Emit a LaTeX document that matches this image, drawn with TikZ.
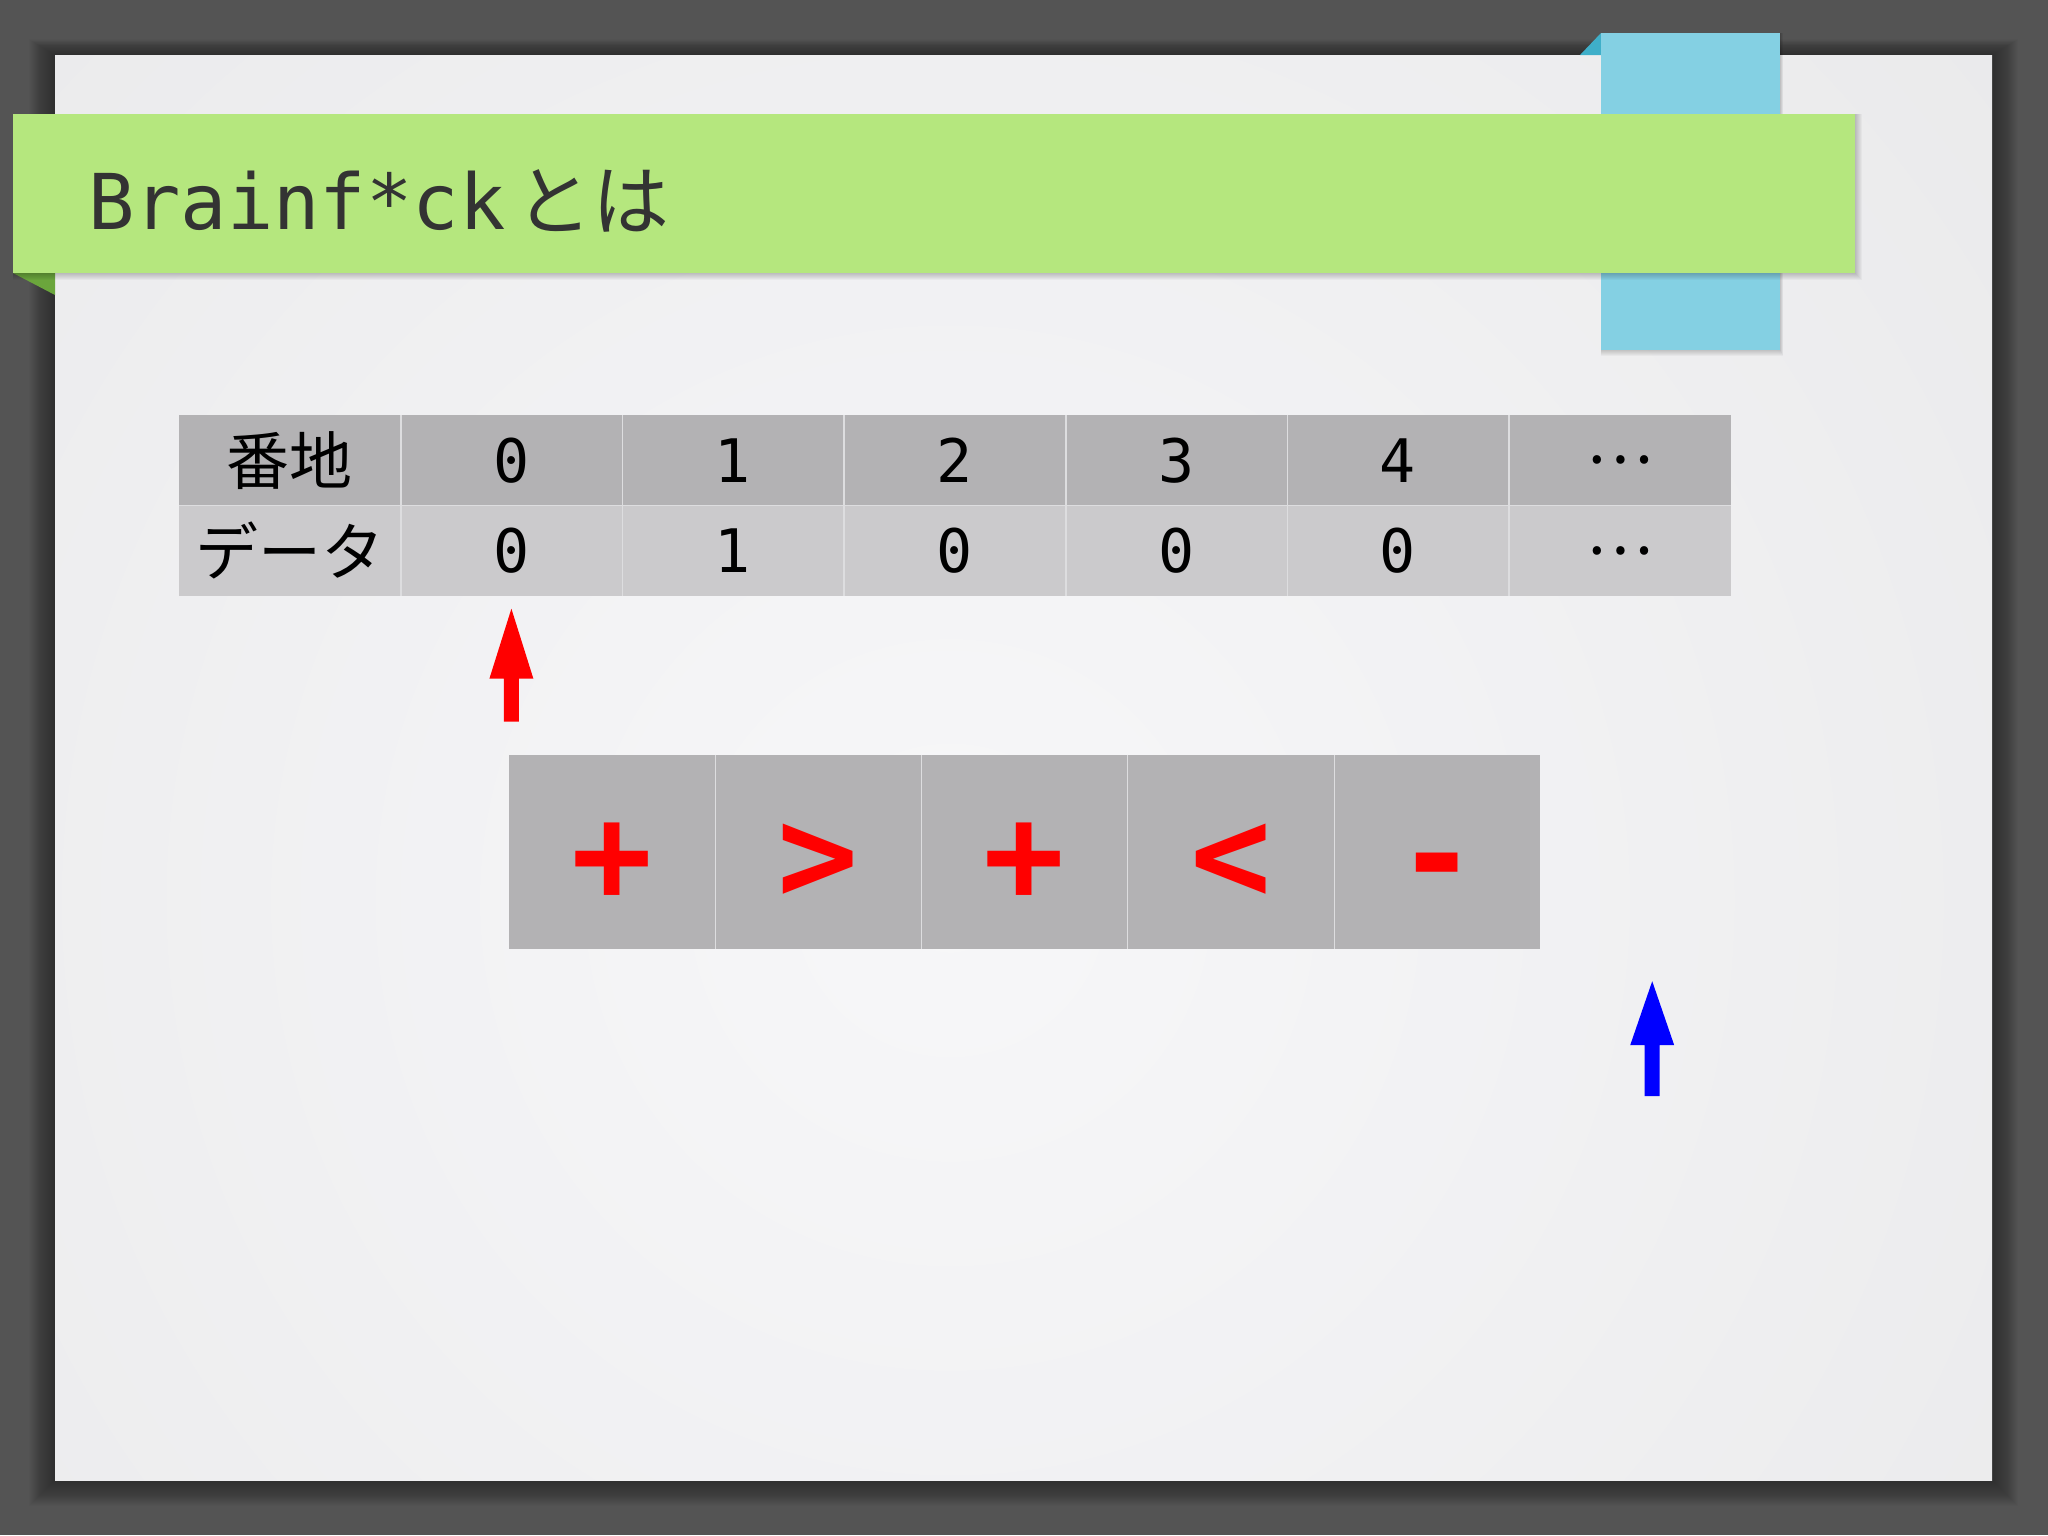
\documentclass[tikz,border=0pt]{standalone}
\usepackage{fontspec}
\setmainfont{DejaVu Sans}
\newfontfamily\monofont{DejaVu Sans Mono}
\newfontfamily\jpfont{Noto Sans CJK JP}
\usetikzlibrary{calc}
\definecolor{bgdark}{HTML}{545454}
\definecolor{slidein}{HTML}{F7F7F9}
\definecolor{slideout}{HTML}{E1E1E2}
\definecolor{bandgreen}{HTML}{B5E77E}
\definecolor{folddkgreen}{HTML}{6BA63C}
\definecolor{tabblue}{HTML}{84D0E3}
\definecolor{folddkblue}{HTML}{3FAFC9}
\definecolor{titletext}{HTML}{333333}
\definecolor{hdrgray}{HTML}{B3B2B4}
\definecolor{datagray}{HTML}{CBCACC}
\definecolor{cmdgray}{HTML}{B3B2B4}
\definecolor{sepline}{HTML}{DDDDDF}
\tikzset{
  hdrcell/.style={fill=hdrgray, minimum width=221.66pt, minimum height=90.1pt, inner sep=0pt, text=black},
  datcell/.style={fill=datagray, minimum width=221.66pt, minimum height=90.1pt, inner sep=0pt, text=black},
  numtext/.style={font=\monofont\fontsize{60}{60}\selectfont},
  cmdcell/.style={fill=cmdgray, minimum width=206.2pt, minimum height=194pt, inner sep=0pt},
  cmdsym/.style={text=red, font=\monofont\bfseries\fontsize{135}{135}\selectfont, inner sep=0pt},
  sepstyle/.style={draw=sepline, line width=1.5pt},
}
\newcommand{\jp}[1]{{\jpfont\fontsize{63}{63}\selectfont #1}}
\begin{document}
\begin{tikzpicture}[x=1pt,y=-1pt]
\useasboundingbox (0,0) rectangle (2048,1535);
% background
\fill[bgdark] (0,0) rectangle (2048,1535);
\foreach \k in {1,...,26}{
  \fill[black,opacity=0.014] (55-\k,55-0.6*\k) rectangle (1992+\k,1480+\k);
}
% slide
\begin{scope}
  \clip (55,55) rectangle (1992,1480);
  \shade[inner color=slidein, outer color=slideout] (950,900) circle (2300);
\end{scope}
% blue tab
\fill[folddkblue] (1580,55) -- (1601,33) -- (1601,55) -- cycle;
\foreach \k in {1,...,6}{
  \fill[black,opacity=0.03] (1601,33) rectangle (1780+0.5*\k,350+\k);
}
\fill[tabblue] (1601,33) rectangle (1780,350);
% green band
\fill[folddkgreen] (13,273) -- (55,273) -- (55,295) -- cycle;
\foreach \k in {1,...,7}{
  \fill[black,opacity=0.03] (13,114) rectangle (1855+\k,273+\k);
}
\fill[bandgreen] (13,114) rectangle (1855,273);
\node[anchor=base west, inner sep=0pt, text=titletext, font=\monofont\fontsize{77}{80}\selectfont] (title) at (88,229) {Brainf*ck\hspace{10pt}{\jpfont\fontsize{77}{77}\selectfont とは}};
% table
\foreach \i/\h/\d in {0/{\jp{番地}}/{\jp{データ}},1/0/0,2/1/1,3/2/0,4/3/0,5/4/0,6/{\jp{…}}/{\jp{…}}}{
  \node[hdrcell, numtext] (h\i) at (178.9+221.66*\i+110.83, 460.35) {\h};
  \node[datcell, numtext] (d\i) at (178.9+221.66*\i+110.83, 550.45) {\d};
}
\draw[sepstyle] (h0.south west) -- (h6.south east);
\foreach \i in {0,...,5}{
  \draw[sepstyle] (h\i.north east) -- (d\i.south east);
}
% red arrow
\coordinate (rtip) at ($(d1.south)+(0,13)$);
\fill[red] (rtip) -- ++(22,70) -- ++(-14.5,0) -- ++(0,43) -- ++(-15,0) -- ++(0,-43) -- ++(-14.5,0) -- cycle;
% command tape
\foreach \s [count=\i from 1] in {+,>,+,<,-}{
  \node[cmdcell] (c\i) at (509+206.2*\i-103.1, 852) {};
  \node[cmdsym] (s\i) at ($(c\i.center)+(0,10)$) {\vphantom{+}\s};
}
\foreach \i in {1,...,4}{
  \draw[sepstyle, line width=1pt] (c\i.north east) -- (c\i.south east);
}
% blue arrow
\coordinate (btip) at ($(c5.south east)+(112,32)$);
\fill[blue] (btip) -- ++(22,64) -- ++(-14.5,0) -- ++(0,51) -- ++(-15,0) -- ++(0,-51) -- ++(-14.5,0) -- cycle;
\end{tikzpicture}
\end{document}
